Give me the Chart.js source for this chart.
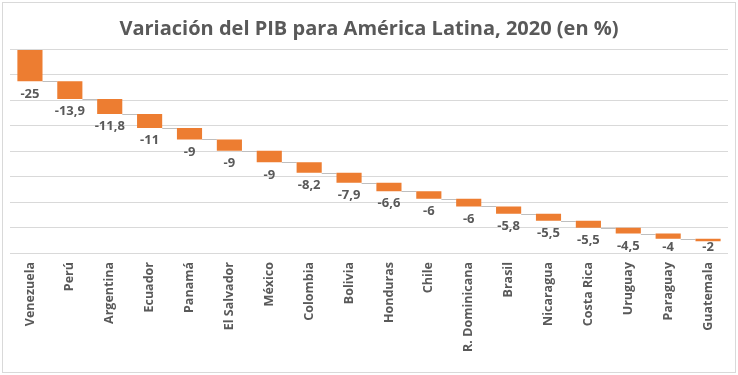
<!DOCTYPE html>
<html lang="es">
<head>
<meta charset="UTF-8">
<title>Variación del PIB para América Latina, 2020</title>
<script src="https://cdn.jsdelivr.net/npm/chart.js@4.4.0/dist/chart.umd.min.js"></script>
<style>
  html, body { margin: 0; padding: 0; background: #fff; }
  .caja { position: relative; width: 738px; height: 375px; }
  .marco { position: absolute; left: 2px; top: 2px; width: 732px; height: 369px; border: 1px solid #d9d9d9; pointer-events: none; }
  canvas { position: absolute; left: 0; top: 0; }
</style>
</head>
<body>
<div class="caja">
  <canvas id="grafico" width="738" height="375"></canvas>
  <div class="marco"></div>
</div>

<script>
  // datos
  var paises = ["Venezuela", "Perú", "Argentina", "Ecuador", "Panamá", "El Salvador", "México", "Colombia", "Bolivia",
    "Honduras", "Chile", "R. Dominicana", "Brasil", "Nicaragua", "Costa Rica", "Uruguay", "Paraguay", "Guatemala"];
  var variacion = [-25, -13.9, -11.8, -11, -9, -9, -9, -8.2, -7.9, -6.6, -6, -6, -5.8, -5.5, -5.5, -4.5, -4, -2];
  var ejeMin = -160;
  var ejeMax = 0;
  var ejePaso = 20;

  // cascada: cada barra empieza donde termina la anterior
  var tramos = [];
  var acumulado = 0;
  for (let i = 0; i < variacion.length; i++) {
    let inicio = acumulado;
    acumulado = Math.round((acumulado + variacion[i]) * 10) / 10;
    tramos.push([inicio, acumulado]);
  }

  var gris = "#595959";

  // lineas que unen una barra con la siguiente
  var conectores = {
    id: "conectores",
    beforeDatasetsDraw(chart) {
      let ctx = chart.ctx;
      let meta = chart.getDatasetMeta(0);
      let y = chart.scales.y;
      ctx.save();
      ctx.strokeStyle = "#bfbfbf";
      ctx.lineWidth = 1;
      for (let i = 0; i < meta.data.length - 1; i++) {
        let a = meta.data[i], b = meta.data[i + 1];
        let py = Math.round(y.getPixelForValue(tramos[i][1])) + 0.5;
        ctx.beginPath();
        ctx.moveTo(a.x + a.width / 2, py);
        ctx.lineTo(b.x - b.width / 2, py);
        ctx.stroke();
      }
      ctx.restore();
    }
  };

  // etiquetas de valor debajo de cada barra
  var etiquetas = {
    id: "etiquetas",
    afterDatasetsDraw(chart) {
      let ctx = chart.ctx;
      let meta = chart.getDatasetMeta(0);
      let y = chart.scales.y;
      ctx.save();
      ctx.fillStyle = gris;
      ctx.font = "bold 13px 'Open Sans'";
      ctx.textAlign = "center";
      ctx.textBaseline = "middle";
      for (let i = 0; i < meta.data.length; i++) {
        let el = meta.data[i];
        let py = y.getPixelForValue(tramos[i][1]) + 12.5;
        py = Math.min(py, chart.chartArea.bottom - 6);
        ctx.fillText(String(variacion[i]).replace(".", ","), el.x, py);
      }
      ctx.restore();
    }
  };

  var ctx = document.getElementById("grafico").getContext("2d");
  var grafico = new Chart(ctx, {
    type: "bar",
    data: {
      labels: paises,
      datasets: [{
        label: "Variación del PIB",
        data: tramos,
        backgroundColor: "#ed7d31",
        borderWidth: 0,
        barPercentage: 0.63,
        categoryPercentage: 1
      }]
    },
    options: {
      responsive: false,
      animation: false,
      layout: { padding: { left: 10, right: 10, top: 0, bottom: 4 } },
      plugins: {
        legend: { display: false },
        tooltip: { enabled: false },
        title: {
          display: true,
          text: "Variación del PIB para América Latina, 2020 (en %)",
          color: gris,
          font: { family: "'Open Sans'", size: 20, weight: "bold" },
          padding: { top: 17, bottom: 8.5 }
        }
      },
      scales: {
        x: {
          grid: { display: false, drawTicks: false },
          border: { display: false },
          ticks: {
            color: gris,
            font: { family: "'Open Sans'", size: 12.5, weight: "bold" },
            minRotation: 90,
            maxRotation: 90,
            autoSkip: false,
            padding: 9
          },
          afterFit(s) { s.height = 118; }
        },
        y: {
          min: ejeMin,
          max: ejeMax,
          ticks: { display: false, stepSize: ejePaso },
          grid: { color: "#d9d9d9", drawTicks: false },
          border: { display: false }
        }
      }
    },
    plugins: [conectores, etiquetas]
  });
</script>
</body>
</html>
